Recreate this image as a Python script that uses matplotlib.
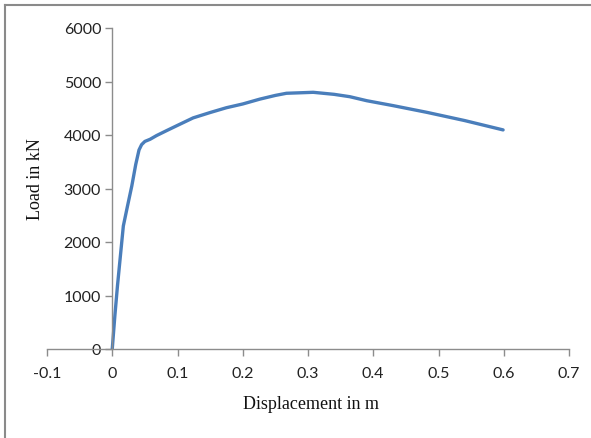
import matplotlib
matplotlib.use("Agg")
import matplotlib.pyplot as plt
from matplotlib.lines import Line2D

# displacement (m) vs load (kN)
disp = [0.0, 0.004, 0.008, 0.012, 0.017, 0.023, 0.030, 0.036, 0.041, 0.045,
        0.050, 0.058, 0.068, 0.083, 0.100, 0.124, 0.150, 0.175, 0.200, 0.226,
        0.250, 0.267, 0.290, 0.308, 0.340, 0.364, 0.390, 0.430, 0.482, 0.540,
        0.599]
load = [0, 620, 1180, 1680, 2300, 2650, 3050, 3450, 3720, 3820,
        3880, 3920, 3990, 4080, 4180, 4320, 4420, 4510, 4580, 4670,
        4740, 4780, 4790, 4798, 4760, 4716, 4641, 4550, 4424, 4270,
        4095]

xticks = [-0.1, 0, 0.1, 0.2, 0.3, 0.4, 0.5, 0.6, 0.7]
xlabels = ['-0.1', '0', '0.1', '0.2', '0.3', '0.4', '0.5', '0.6', '0.7']
yticks = [0, 1000, 2000, 3000, 4000, 5000, 6000]

fig = plt.figure(figsize=(5.91, 4.39), dpi=100)
ax = fig.add_axes([47/591, 1 - 350/439, (569 - 47)/591, (350 - 29)/439])

ax.plot(disp, load, color='#4a7ebb', lw=2.4, solid_capstyle='round',
        solid_joinstyle='round')

ax.set_xlim(-0.1, 0.7)
ax.set_ylim(0, 6000)

# excel style: y axis crosses at x = 0
ax.spines['left'].set_position(('data', 0))
ax.spines['right'].set_visible(False)
ax.spines['top'].set_visible(False)
for s in ['left', 'bottom']:
    ax.spines[s].set_color('#8c8c8c')
    ax.spines[s].set_linewidth(1.0)

ax.set_xticks(xticks)
ax.set_xticklabels(xlabels)
ax.set_yticks(yticks)
ax.tick_params(axis='both', direction='out', length=5, width=1, color='#8c8c8c',
               labelsize=11.5, labelcolor='#222222')
ax.tick_params(axis='x', pad=7)
ax.tick_params(axis='y', pad=3)
for lab in ax.get_xticklabels() + ax.get_yticklabels():
    lab.set_family('Lato')

fig.text(311/591, 1 - 405/439, 'Displacement in m', family='Liberation Serif',
         fontsize=13, ha='center', va='center', color='#111111')
fig.text(35/591, 1 - 179/439, 'Load in kN', family='Liberation Serif',
         fontsize=13, rotation=90, ha='center', va='center', color='#111111')

# grey frame around the picture
fig.add_artist(Line2D([5/591, 1], [1 - 6/439, 1 - 6/439], color='#8a8a8a', lw=1.5,
                      transform=fig.transFigure))
fig.add_artist(Line2D([5/591, 5/591], [0, 1 - 6/439], color='#8a8a8a', lw=1.5,
                      transform=fig.transFigure))

fig.savefig('out.png', dpi=100)
